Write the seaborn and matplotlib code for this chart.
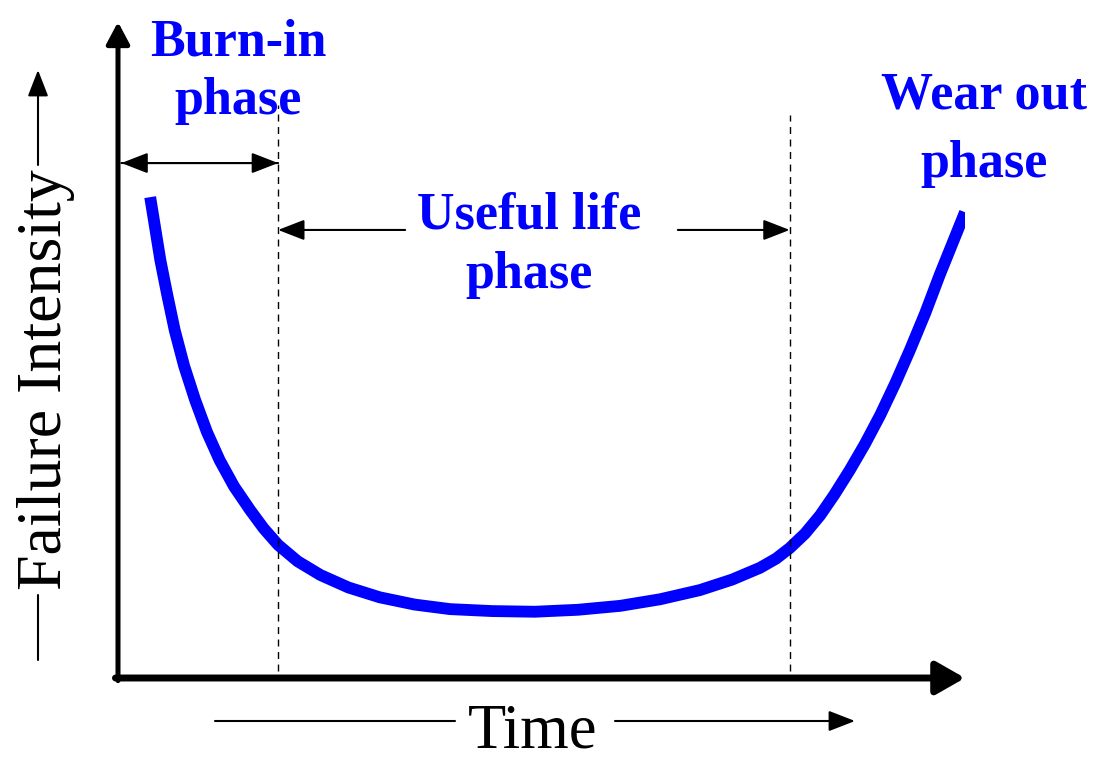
"""
Bathtub curve: failure intensity over time with burn-in, useful life and wear-out phases.
"""

import matplotlib.pyplot as plt
import pandas as pd
import seaborn as sns

# curve (time 0-100, intensity 0-100)
TIME = [3.8, 4.4, 5.0, 5.8, 6.7, 7.8, 9.1, 10.5, 12.0, 13.7, 15.6, 17.2, 18.9,
        21.2, 23.9, 27.2, 30.9, 35.0, 39.2, 44.2, 49.2, 54.3, 59.3, 64.0,
        68.7, 72.5, 75.8, 77.7, 79.3, 81.1, 82.9, 84.6, 86.4, 88.2, 90.0,
        91.8, 93.5, 95.3, 97.0, 98.5, 100.0]
INTENSITY = [73.3, 68.5, 63.7, 58.5, 53.0, 47.6, 42.4, 37.5, 33.2, 29.2, 25.6,
             22.8, 20.3, 17.8, 15.7, 13.8, 12.3, 11.2, 10.5, 10.2, 10.1, 10.4,
             11.0, 12.0, 13.4, 15.0, 16.8, 18.2, 19.8, 22.0, 24.8, 28.0, 31.7,
             35.7, 40.1, 45.0, 50.0, 55.6, 61.4, 66.2, 71.0]

PHASE_EDGES = [18.9, 79.3]          # burn-in ends, wear-out starts
PHASE_LABELS = ["Burn-in\nphase", "Useful life\nphase", "Wear out\nphase"]
X_LABEL = "Time"
Y_LABEL = "Failure Intensity"

BLUE = "#0000ff"
SERIF = ["Liberation Serif", "DejaVu Serif"]

sns.set_style("white")
plt.rcParams["font.family"] = SERIF
plt.rcParams["text.color"] = "black"

W, H = 1097, 762
fig = plt.figure(figsize=(W / 100, H / 100), dpi=100)
ax = fig.add_axes([118 / W, (H - 678) / H, (965 - 118) / W, (678 - 22) / H])
ax.set_xlim(0, 100)
ax.set_ylim(0, 100)
ax.axis("off")

df = pd.DataFrame({"time": TIME, "intensity": INTENSITY})
sns.lineplot(data=df, x="time", y="intensity", ax=ax, color=BLUE, lw=8.5,
             solid_joinstyle="round", solid_capstyle="butt", sort=False)

# axes as thick arrows
ax.annotate("", xy=(0, 1), xytext=(0, -0.004), xycoords="axes fraction",
            arrowprops=dict(arrowstyle="-|>,head_length=0.6,head_width=0.32",
                            lw=3.6, color="black", shrinkA=0, shrinkB=0,
                            mutation_scale=22))
ax.annotate("", xy=(1, 0), xytext=(-0.003, 0), xycoords="axes fraction",
            arrowprops=dict(arrowstyle="-|>,head_length=0.7,head_width=0.4",
                            lw=5, color="black", shrinkA=0, shrinkB=0,
                            mutation_scale=25))

# phase boundaries
ax.vlines(PHASE_EDGES[0], 1, 87.3, colors="black", lw=1, linestyles=(0, (5, 4)))
ax.vlines(PHASE_EDGES[1], 1, 85.8, colors="black", lw=1, linestyles=(0, (5, 4)))

thin_arrow = dict(arrowstyle="-|>,head_length=0.9,head_width=0.35", lw=1.5,
                  color="black", shrinkA=0, shrinkB=0, mutation_scale=18)
ax.annotate("", xy=(0.4, 78.5), xytext=(PHASE_EDGES[0], 78.5), arrowprops=thin_arrow)
ax.annotate("", xy=(PHASE_EDGES[0], 78.5), xytext=(0.4, 78.5), arrowprops=thin_arrow)
ax.annotate("", xy=(PHASE_EDGES[0], 68.3), xytext=(33.9, 68.3), arrowprops=thin_arrow)
ax.annotate("", xy=(PHASE_EDGES[1], 68.3), xytext=(66.1, 68.3), arrowprops=thin_arrow)

label_kw = dict(color=BLUE, fontweight="bold", fontsize=37.5, ha="center",
                va="center", clip_on=False)
ax.text(14.2, 92.4, PHASE_LABELS[0], linespacing=1.3, **label_kw)
ax.text(48.5, 66.0, PHASE_LABELS[1], linespacing=1.3, **label_kw)
ax.text(102.2, 83.6, PHASE_LABELS[2], linespacing=1.55, **label_kw)

# axis titles with their arrows
fig.text(46 / W, (H - 380) / H, Y_LABEL, rotation=90, fontsize=46,
         ha="center", va="center")
fig.text(533 / W, (H - 733) / H, X_LABEL, fontsize=45, ha="center", va="center")

small_arrow = dict(arrowstyle="-|>,head_length=0.9,head_width=0.35", lw=1.5,
                   color="black", shrinkA=0, shrinkB=0, mutation_scale=18)
fig_px = "figure pixels"
fig.add_artist(plt.Line2D([38 / W, 38 / W], [(H - 660) / H, (H - 595) / H],
                          color="black", lw=1.5))
ax.annotate("", xy=(38, H - 70), xytext=(38, H - 165), xycoords=fig_px,
            textcoords=fig_px, arrowprops=small_arrow, annotation_clip=False)
fig.add_artist(plt.Line2D([215 / W, 455 / W], [(H - 721) / H, (H - 721) / H],
                          color="black", lw=1.5))
ax.annotate("", xy=(855, H - 721), xytext=(615, H - 721), xycoords=fig_px,
            textcoords=fig_px, arrowprops=small_arrow, annotation_clip=False)

fig.savefig("out.png", dpi=100)
plt.close()
